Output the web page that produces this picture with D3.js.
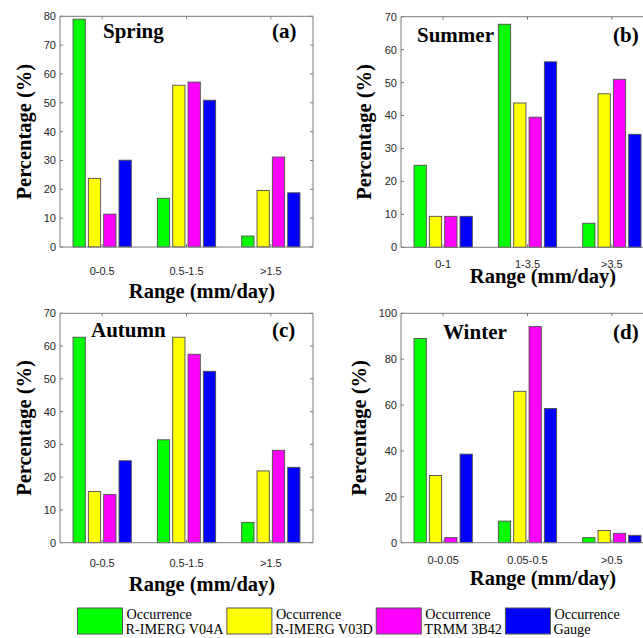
<!DOCTYPE html>
<html>
<head>
<meta charset="utf-8">
<script src="https://cdn.jsdelivr.net/npm/d3@7"></script>
<style>
  html, body { margin: 0; padding: 0; background: #fff; }
  svg { display: block; }
</style>
</head>
<body>
<svg id="chart" width="643" height="638"></svg>
<script>
// Products compared in every panel
const seriesTop = ["Occurrence", "Occurrence", "Occurrence", "Occurrence"];
const seriesBottom = ["R-IMERG V04A", "R-IMERG V03D", "TRMM 3B42", "Gauge"];
const seriesColors = ["#00ff00", "#ffff00", "#ff00ff", "#0000ff"];

// Rainfall-intensity classes per season
const springRanges = ["0-0.5", "0.5-1.5", ">1.5"];
const summerRanges = ["0-1", "1-3.5", ">3.5"];
const autumnRanges = ["0-0.5", "0.5-1.5", ">1.5"];
const winterRanges = ["0-0.05", "0.05-0.5", ">0.5"];

// Occurrence percentages: one row per range, one value per product
const springValues = [[79.0, 23.8, 11.4, 30.1], [16.9, 56.1, 57.2, 50.9], [3.8, 19.6, 31.2, 18.8]];
const summerValues = [[24.9, 9.4, 9.4, 9.4], [67.7, 43.8, 39.5, 56.3], [7.3, 46.6, 51.0, 34.3]];
const autumnValues = [[62.7, 15.6, 14.7, 25.0], [31.4, 62.7, 57.5, 52.3], [6.2, 21.9, 28.2, 23.0]];
const winterValues = [[89.0, 29.3, 2.2, 38.6], [9.4, 66.0, 94.2, 58.5], [2.2, 5.3, 4.1, 3.2]];

// Y-axis ticks per season
const springTicks = [0, 10, 20, 30, 40, 50, 60, 70, 80];
const summerTicks = [0, 10, 20, 30, 40, 50, 60, 70];
const autumnTicks = [0, 10, 20, 30, 40, 50, 60, 70];
const winterTicks = [0, 20, 40, 60, 80, 100];

const svg = d3.select("#chart");
const serif = "'Liberation Serif', 'Times New Roman', serif";
const sans = "'Liberation Sans', Arial, sans-serif";
const axisGrey = "#7a7a7a";

const panels = [
  { name: "Spring", tag: "(a)", ranges: springRanges, values: springValues, ticks: springTicks,
    left: 60, top: 16.3, bottom: 247, tickDy: 27.5, xLabDy: 50.5, yLabDx: -29, titleDx: 43, titleDy: 21.5 },
  { name: "Summer", tag: "(b)", ranges: summerRanges, values: summerValues, ticks: summerTicks,
    left: 401, top: 16.7, bottom: 247.3, tickDy: 21, xLabDy: 36, yLabDx: -30, titleDx: 16, titleDy: 25 },
  { name: "Autumn", tag: "(c)", ranges: autumnRanges, values: autumnValues, ticks: autumnTicks,
    left: 60, top: 313.3, bottom: 542.7, tickDy: 24, xLabDy: 48, yLabDx: -29, titleDx: 31, titleDy: 23.4 },
  { name: "Winter", tag: "(d)", ranges: winterRanges, values: winterValues, ticks: winterTicks,
    left: 401, top: 313.3, bottom: 542.7, tickDy: 21.5, xLabDy: 42, yLabDx: -35, titleDx: 42, titleDy: 26 }
];

const plotWidth = 253;
const nSeries = seriesColors.length;
const groupWidth = Math.min(0.8, nSeries / (nSeries + 1.5));
const slot = groupWidth / nSeries;
const barWidth = slot * 0.8;

panels.forEach(p => {
  const g = svg.append("g");
  const x = d3.scaleLinear().domain([0.5, p.ranges.length + 0.5]).range([p.left, p.left + plotWidth]);
  const y = d3.scaleLinear().domain([0, d3.max(p.ticks)]).range([p.bottom, p.top]);

  // bars
  p.values.forEach((row, gi) => {
    g.selectAll(null)
      .data(row)
      .enter().append("rect")
      .attr("x", (v, si) => x(gi + 1 + (si - (nSeries - 1) / 2) * slot - barWidth / 2))
      .attr("width", x(barWidth) - x(0))
      .attr("y", v => y(v))
      .attr("height", v => y(0) - y(v))
      .attr("fill", (v, si) => seriesColors[si])
      .attr("stroke", "#4d4d4d")
      .attr("stroke-width", 0.9);
  });

  // box outline
  const x0 = x.range()[0], x1 = x.range()[1];
  g.append("path")
    .attr("d", `M${x0},${p.top}H${x1}V${p.bottom}H${x0}Z`)
    .attr("fill", "none").attr("stroke", axisGrey).attr("stroke-width", 1);

  // inward ticks on left/right
  p.ticks.forEach(t => {
    g.append("path")
      .attr("d", `M${x0},${y(t)}h3M${x1},${y(t)}h-3`)
      .attr("stroke", axisGrey).attr("stroke-width", 1);
  });
  // inward ticks on top/bottom at group centres
  p.ranges.forEach((r, i) => {
    g.append("path")
      .attr("d", `M${x(i + 1)},${p.bottom}v-3M${x(i + 1)},${p.top}v3`)
      .attr("stroke", axisGrey).attr("stroke-width", 1);
  });

  // y tick labels
  g.selectAll(null).data(p.ticks).enter().append("text")
    .attr("x", x0 - 4)
    .attr("y", t => y(t))
    .attr("dy", "0.36em")
    .attr("text-anchor", "end")
    .attr("font-family", sans).attr("font-size", 11).attr("fill", "#262626")
    .text(t => t);

  // x tick labels
  g.selectAll(null).data(p.ranges).enter().append("text")
    .attr("x", (r, i) => x(i + 1))
    .attr("y", p.bottom + p.tickDy)
    .attr("text-anchor", "middle")
    .attr("font-family", sans).attr("font-size", 11).attr("fill", "#262626")
    .text(r => r);

  // axis titles
  g.append("text")
    .attr("x", x0 + 142).attr("y", p.bottom + p.xLabDy)
    .attr("text-anchor", "middle")
    .attr("font-family", serif).attr("font-weight", "bold").attr("font-size", 20.5)
    .text("Range (mm/day)");
  g.append("text")
    .attr("transform", `translate(${x0 + p.yLabDx},${(p.top + p.bottom) / 2}) rotate(-90)`)
    .attr("text-anchor", "middle")
    .attr("font-family", serif).attr("font-weight", "bold").attr("font-size", 20.5)
    .text("Percentage (%)");

  // season name and panel tag
  g.append("text")
    .attr("x", x0 + p.titleDx).attr("y", p.top + p.titleDy)
    .attr("font-family", serif).attr("font-weight", "bold").attr("font-size", 21)
    .text(p.name);
  g.append("text")
    .attr("x", x0 + 212).attr("y", p.top + p.titleDy)
    .attr("font-family", serif).attr("font-weight", "bold").attr("font-size", 21)
    .text(p.tag);
});

// legend along the bottom
const legend = svg.append("g");
let lx = 77.5;
seriesColors.forEach((c, i) => {
  legend.append("rect")
    .attr("x", lx).attr("y", 608).attr("width", 45).attr("height", 26)
    .attr("fill", c).attr("stroke", "#555").attr("stroke-width", 1);
  const t1 = legend.append("text")
    .attr("x", lx + 49).attr("y", 619)
    .attr("font-family", serif).attr("font-size", 14.2)
    .text(seriesTop[i]);
  const t2 = legend.append("text")
    .attr("x", lx + 48).attr("y", 634)
    .attr("font-family", serif).attr("font-size", 14.2)
    .text(seriesBottom[i]);
  const w = Math.max(t1.node().getComputedTextLength(), t2.node().getComputedTextLength());
  lx = lx + 48 + w + 3.5;
});
</script>
</body>
</html>
